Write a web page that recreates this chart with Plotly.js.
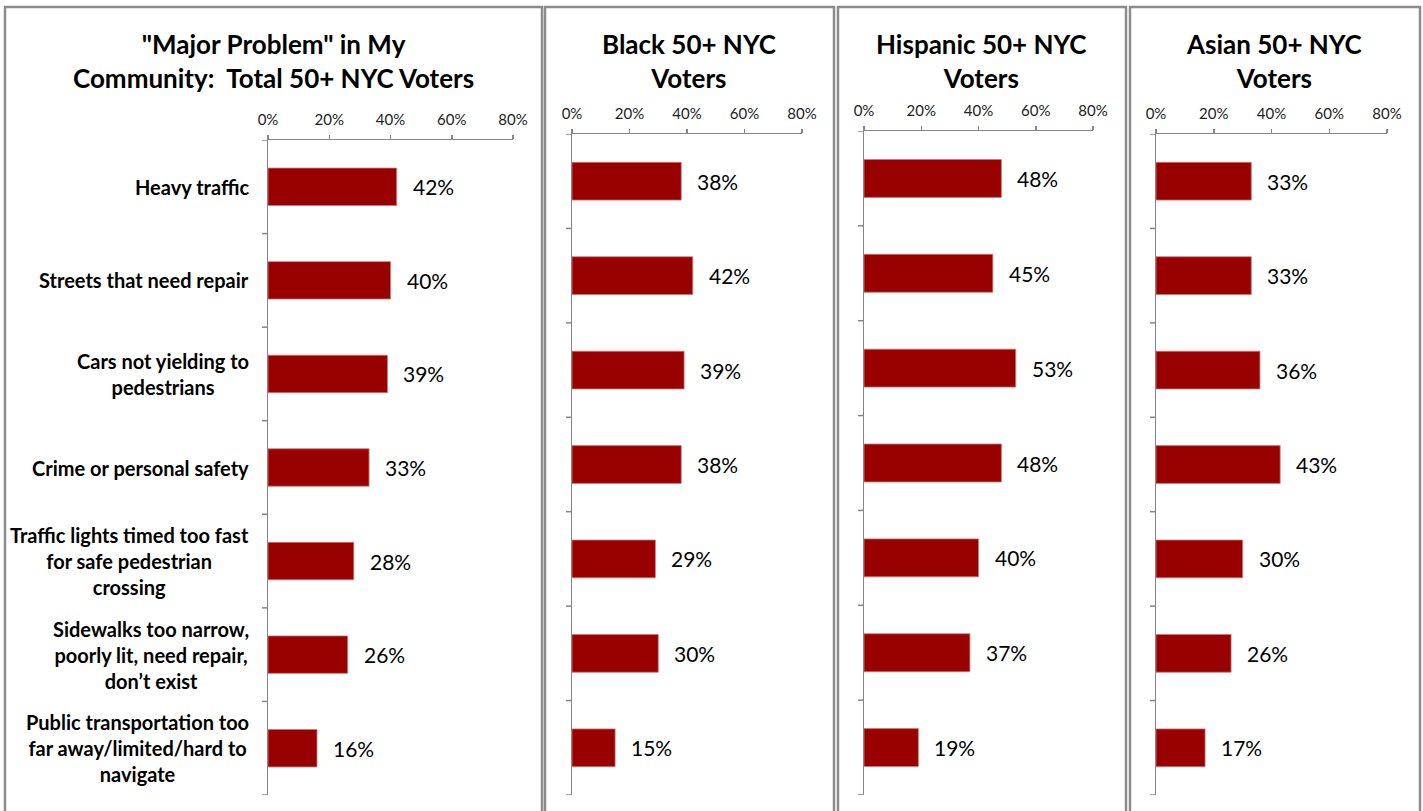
<!DOCTYPE html>
<html>
<head>
<meta charset="utf-8">
<script src="https://cdn.plot.ly/plotly-3.0.1.min.js"></script>
<style>html,body{margin:0;padding:0;background:#fff;}#chart{width:1423px;height:811px;}</style>
</head>
<body>
<div id="chart"></div>
<script>
const categories = [
  "Heavy traffic",
  "Streets that need repair",
  "Cars not yielding to<br>pedestrians",
  "Crime or personal safety",
  "Traffic lights timed too fast<br>for safe pedestrian<br>crossing",
  "Sidewalks too narrow,<br>poorly lit, need repair,<br>don\u2019t exist",
  "Public transportation too<br>far away/limited/hard to<br>navigate"
];
const totalVals    = [42, 40, 39, 33, 28, 26, 16];
const blackVals    = [38, 42, 39, 38, 29, 30, 15];
const hispanicVals = [48, 45, 53, 48, 40, 37, 19];
const asianVals    = [33, 33, 36, 43, 30, 26, 17];
const panelTitles = [
  "\"Major Problem\" in My<br>Community:\u00A0 Total 50+ NYC Voters",
  "Black 50+ NYC<br>Voters",
  "Hispanic 50+ NYC<br>Voters",
  "Asian 50+ NYC<br>Voters"
];
const tickVals = [0, 20, 40, 60, 80];
const tickText = ["0%", "20%", "40%", "60%", "80%"];

const W = 1423, H = 811;
const FONT = "Lato, 'Open Sans', sans-serif";
const BAR = "#990000";
const AX = "#868686";

// panel geometry in pixels
const panels = [
  {vals: totalVals,    x: [268, 513],  y: [140, 795], box: [5, 542],    titleX: 273},
  {vals: blackVals,    x: [572, 802],  y: [134, 795], box: [545, 834],  titleX: 689},
  {vals: hispanicVals, x: [864, 1093], y: [131, 795], box: [838, 1126], titleX: 982},
  {vals: asianVals,    x: [1156, 1387],y: [134, 795], box: [1130, 1420],titleX: 1274}
];
const px = v => v / W;
const py = v => 1 - v / H;

const idx = categories.map((c, i) => i);
const data = [];
const layout = {
  width: W, height: H,
  margin: {l: 0, r: 0, t: 0, b: 0},
  paper_bgcolor: "#fff", plot_bgcolor: "rgba(0,0,0,0)",
  showlegend: false,
  font: {family: FONT, color: "#000"},
  annotations: [], shapes: []
};

panels.forEach((p, k) => {
  const n = k === 0 ? "" : String(k + 1);
  data.push({
    type: "bar", orientation: "h",
    x: p.vals, y: idx,
    xaxis: "x" + n, yaxis: "y" + n,
    width: 0.4,
    marker: {color: BAR, line: {color: "#c87a7a", width: 0.8}},
    hoverinfo: "none"
  });
  layout["xaxis" + n] = {
    domain: [px(p.x[0]), px(p.x[1])],
    anchor: "y" + n, side: "top",
    range: [0, 80], tickvals: tickVals, ticktext: tickText,
    showgrid: false, zeroline: false,
    showline: true, linecolor: AX, linewidth: 1.5,
    ticks: "outside", ticklen: 4, tickcolor: AX, tickwidth: 1.5,
    ticklabelstandoff: 4,
    tickfont: {size: 15, color: "#222", family: FONT},
    fixedrange: true
  };
  layout["yaxis" + n] = {
    domain: [py(p.y[1]), py(p.y[0])],
    anchor: "x" + n,
    range: [categories.length - 0.5, -0.5],
    tickvals: idx, showticklabels: false,
    tickmode: "array",
    showgrid: false, zeroline: false,
    showline: true, linecolor: AX, linewidth: 1.5,
    ticks: "", fixedrange: true
  };
  // boundary ticks on category axis
  for (let b = 0; b <= categories.length; b++) {
    layout.shapes.push({
      type: "line", xref: "x" + n + " domain", yref: "y" + n,
      x0: -6 / (p.x[1] - p.x[0]), x1: 0,
      y0: b - 0.5, y1: b - 0.5,
      line: {color: AX, width: 1.5}
    });
  }
  // value labels
  p.vals.forEach((v, i) => {
    layout.annotations.push({
      xref: "x" + n, yref: "y" + n, x: v, y: i,
      xanchor: "left", yanchor: "middle", xshift: 14,
      text: v + "%", showarrow: false,
      font: {size: 21, color: "#000", family: FONT}
    });
  });
  // panel title
  layout.annotations.push({
    xref: "paper", yref: "paper", x: px(p.titleX), y: py(26),
    xanchor: "center", yanchor: "top", align: "center",
    text: "<b>" + panelTitles[k] + "</b>", showarrow: false,
    font: {size: 26, color: "#000", family: FONT}
  });
  // panel border
  layout.shapes.push({
    type: "rect", xref: "paper", yref: "paper",
    x0: px(p.box[0]), x1: px(p.box[1]), y0: -0.05, y1: py(7),
    line: {color: "#8c8c8c", width: 2.5}, fillcolor: "rgba(0,0,0,0)"
  });
});

// category labels (first panel)
categories.forEach((c, i) => {
  layout.annotations.push({
    xref: "paper", yref: "y", x: px(251), y: i,
    xanchor: "right", yanchor: "middle", align: "center",
    text: "<b>" + c + "</b>", showarrow: false,
    font: {size: 20, color: "#000", family: FONT}
  });
});

Plotly.newPlot("chart", data, layout, {displayModeBar: false, staticPlot: true});
</script>
</body>
</html>
